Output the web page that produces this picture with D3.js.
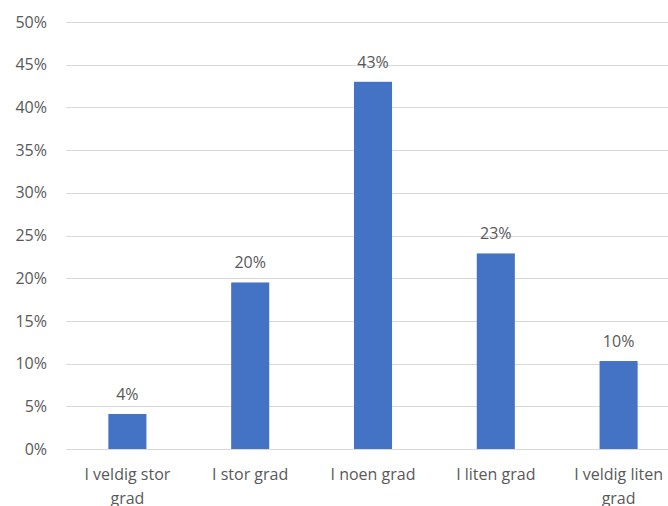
<!DOCTYPE html>
<html>
<head>
<meta charset="utf-8">
<script src="https://cdn.jsdelivr.net/npm/d3@7"></script>
<style>
  body { margin: 0; background: #fff; }
  svg text { font-family: "Open Sans", "Noto Sans", sans-serif; fill: #595959; }
</style>
</head>
<body>
<svg id="chart" width="668" height="506"></svg>
<script>
var categories = ['I veldig stor grad', 'I stor grad', 'I noen grad', 'I liten grad', 'I veldig liten grad'];
var values = [0.041, 0.195, 0.43, 0.229, 0.103];
var labels = ['4%', '20%', '43%', '23%', '10%'];
var yTicks = [0, 0.05, 0.1, 0.15, 0.2, 0.25, 0.3, 0.35, 0.4, 0.45, 0.5];

var svg = d3.select('#chart');
var margins = { top: 22, bottom: 57, left: 66, right: -12 };
var width = 668, height = 506;

var x = d3.scaleBand()
  .domain(categories)
  .range([margins.left, width - margins.right])
  .paddingInner(0.69)
  .paddingOuter(0.345);

var y = d3.scaleLinear()
  .domain([0, 0.5])
  .range([height - margins.bottom, margins.top]);

// gridlines
svg.append('g')
  .selectAll('line')
  .data(yTicks)
  .enter()
  .append('line')
  .attr('x1', margins.left)
  .attr('x2', width - margins.right)
  .attr('y1', function(d) { return Math.round(y(d)) + 0.5; })
  .attr('y2', function(d) { return Math.round(y(d)) + 0.5; })
  .attr('stroke', '#d9d9d9')
  .attr('stroke-width', 1);

// y tick labels
svg.append('g')
  .selectAll('text')
  .data(yTicks)
  .enter()
  .append('text')
  .attr('x', 47)
  .attr('y', function(d) { return y(d); })
  .attr('dy', '0.35em')
  .attr('text-anchor', 'end')
  .attr('font-size', '16px')
  .text(d3.format('.0%'));

// bars
svg.append('g')
  .selectAll('rect')
  .data(values)
  .enter()
  .append('rect')
  .attr('x', function(d, i) { return x(categories[i]); })
  .attr('y', function(d) { return y(d); })
  .attr('width', x.bandwidth())
  .attr('height', function(d) { return y(0) - y(d); })
  .attr('fill', '#4472c4');

// value labels
svg.append('g')
  .selectAll('text')
  .data(values)
  .enter()
  .append('text')
  .attr('x', function(d, i) { return x(categories[i]) + x.bandwidth() / 2; })
  .attr('y', function(d) { return y(d) - 14; })
  .attr('text-anchor', 'middle')
  .attr('font-size', '16px')
  .text(function(d, i) { return labels[i]; });

// category labels, wrapped
var step = x.step();
svg.append('g')
  .selectAll('text')
  .data(categories)
  .enter()
  .append('text')
  .attr('x', function(d) { return x(d) + x.bandwidth() / 2; })
  .attr('y', 480)
  .attr('text-anchor', 'middle')
  .attr('font-size', '16px')
  .each(function(d) {
    var el = d3.select(this);
    var cx = +el.attr('x');
    var words = d.split(' ');
    var line = [];
    var lineNo = 0;
    var tspan = el.append('tspan').attr('x', cx).attr('y', 480);
    words.forEach(function(w) {
      line.push(w);
      tspan.text(line.join(' '));
      if (tspan.node().getComputedTextLength() > step - 12 && line.length > 1) {
        line.pop();
        tspan.text(line.join(' '));
        line = [w];
        lineNo++;
        tspan = el.append('tspan').attr('x', cx).attr('y', 480 + lineNo * 24).text(w);
      }
    });
  });
</script>
</body>
</html>
